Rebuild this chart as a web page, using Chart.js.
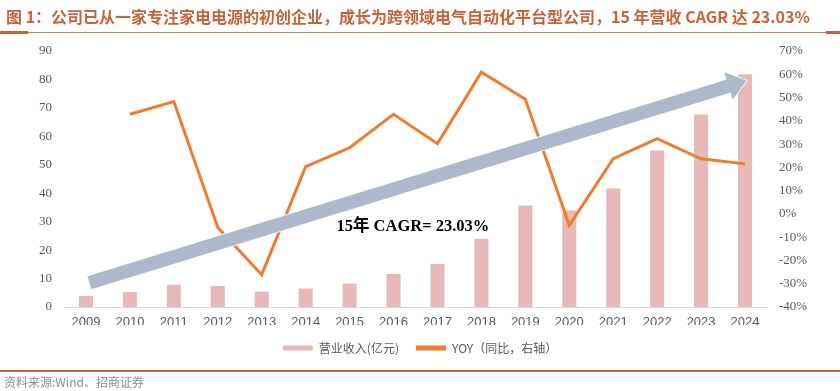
<!DOCTYPE html>
<html>
<head>
<meta charset="utf-8">
<script src="https://cdn.jsdelivr.net/npm/chart.js@4/dist/chart.umd.min.js"></script>
<style>
  html, body { margin: 0; padding: 0; background: #fff; }
  #wrap { position: relative; width: 840px; height: 391px; overflow: hidden; }
  #chart { position: absolute; left: 0; top: 0; }
  .title {
    position: absolute; left: 6px; top: 4px; white-space: nowrap;
    font: bold 16px "Noto Sans CJK SC", "Liberation Sans", sans-serif;
    color: #c4643c;
  }
  .rule-top { position: absolute; left: 0; top: 32px; width: 840px; height: 1px; background: #c8785a; }
  .rule-top-l { position: absolute; left: 0; top: 31px; width: 28px; height: 3px; background: #c4643c; }
  .rule-top-r { position: absolute; left: 826px; top: 31px; width: 14px; height: 3px; background: #c4643c; }
  .rule-bottom { position: absolute; left: 0; top: 370px; width: 840px; height: 2px; background: #c0694a; }
  .source {
    position: absolute; left: 4px; top: 373px; white-space: nowrap;
    font: 12px "Noto Sans CJK SC", sans-serif; color: #8c8c8c;
  }
</style>
</head>
<body>
<div id="wrap">
  <canvas id="chart" width="840" height="391"></canvas>
  <div class="title">图 1：公司已从一家专注家电电源的初创企业，成长为跨领域电气自动化平台型公司，15 年营收 CAGR 达 23.03%</div>
  <div class="rule-top"></div>
  <div class="rule-top-l"></div>
  <div class="rule-top-r"></div>
  <div class="rule-bottom"></div>
  <div class="source">资料来源:Wind、招商证券</div>
</div>
<script>
// --- data ---
const years = ['2009', '2010', '2011', '2012', '2013', '2014', '2015', '2016',
               '2017', '2018', '2019', '2020', '2021', '2022', '2023', '2024'];
// 营业收入 (亿元)
const revenue = [3.9, 5.3, 7.8, 7.4, 5.4, 6.5, 8.2, 11.6, 15.1, 24.0, 35.7, 33.9, 41.7, 55.0, 67.7, 81.8];
// YOY (%), no value for the first year
const yoy = [null, 42.8, 48.3, -5.8, -26.1, 20.3, 28.4, 42.8, 30.2, 60.9, 49.3, -4.9, 23.7, 32.3, 23.7, 21.5];

const leftTicks = { min: 0, max: 90, step: 10 };
const rightTicks = { min: -40, max: 70, step: 10 };

// trend arrow, in (category index, left-axis value) units
const arrowFrom = [0.07, 8.5];
const arrowTo = [15.05, 79.7];
const cagrText = '15年 CAGR= 23.03%';
const cagrAt = [7.44, 28.2];

const BAR = '#e6b9b8';
const LINE = '#ed7d31';
const ARROW = '#adb9ca';
const TICK = '#595959';

// --- arrow + label overlay ---
const trendArrow = {
    id: 'trendArrow',
    afterDatasetsDraw(chart) {
        const { ctx, scales } = chart;
        const x0 = scales.x.getPixelForValue(arrowFrom[0]);
        const y0 = scales.y.getPixelForValue(arrowFrom[1]);
        const x1 = scales.x.getPixelForValue(arrowTo[0]);
        const y1 = scales.y.getPixelForValue(arrowTo[1]);
        const len = Math.hypot(x1 - x0, y1 - y0);
        const ang = Math.atan2(y1 - y0, x1 - x0);
        const half = 7.2, headLen = 20, headHalf = 15;

        ctx.save();
        ctx.translate(x0, y0);
        ctx.rotate(ang);
        ctx.beginPath();
        ctx.moveTo(0, -half);
        ctx.lineTo(len - headLen, -half);
        ctx.lineTo(len - headLen, -headHalf);
        ctx.lineTo(len, 0);
        ctx.lineTo(len - headLen, headHalf);
        ctx.lineTo(len - headLen, half);
        ctx.lineTo(0, half);
        ctx.closePath();
        ctx.fillStyle = ARROW;
        ctx.fill();
        ctx.lineWidth = 1;
        ctx.strokeStyle = 'rgba(255,255,255,0.8)';
        ctx.stroke();
        ctx.restore();

        ctx.save();
        ctx.font = 'bold 16.5px "Liberation Serif", "Noto Sans CJK SC", serif';
        ctx.fillStyle = '#000';
        ctx.textAlign = 'center';
        ctx.textBaseline = 'middle';
        ctx.fillText(cagrText, scales.x.getPixelForValue(cagrAt[0]), scales.y.getPixelForValue(cagrAt[1]));
        ctx.restore();
    }
};

new Chart(document.getElementById('chart'), {
    data: {
        labels: years,
        datasets: [
            {
                type: 'line',
                label: 'YOY（同比，右轴）',
                data: yoy,
                yAxisID: 'y1',
                borderColor: LINE,
                backgroundColor: LINE,
                borderWidth: 3,
                pointRadius: 0,
                tension: 0,
                spanGaps: false,
                order: 1
            },
            {
                type: 'bar',
                label: '营业收入(亿元)',
                data: revenue,
                yAxisID: 'y',
                backgroundColor: BAR,
                barPercentage: 0.32,
                categoryPercentage: 1,
                order: 2
            }
        ]
    },
    options: {
        responsive: false,
        animation: false,
        layout: { padding: { top: 51, left: 0, right: 0, bottom: 27 } },
        scales: {
            x: {
                grid: { display: false, drawTicks: false },
                border: { display: true, color: '#d9d9d9', width: 1 },
                ticks: { color: TICK, font: { family: '"Liberation Sans", sans-serif', size: 13 }, padding: 8, maxRotation: 0, autoSkip: false },
                afterFit: (axis) => { axis.height = 18; }
            },
            y: {
                position: 'left',
                min: leftTicks.min, max: leftTicks.max,
                grid: { display: false, drawTicks: false },
                border: { display: false },
                ticks: { stepSize: leftTicks.step, color: TICK, padding: 12, font: { family: '"Liberation Serif", serif', size: 13 } },
                afterFit: (axis) => { axis.width = 64; }
            },
            y1: {
                position: 'right',
                min: rightTicks.min, max: rightTicks.max,
                grid: { display: false, drawTicks: false },
                border: { display: false },
                ticks: {
                    stepSize: rightTicks.step, color: TICK, padding: 12,
                    font: { family: '"Liberation Serif", serif', size: 13 },
                    callback: (v) => v + '%'
                },
                afterFit: (axis) => { axis.width = 73; }
            }
        },
        plugins: {
            legend: {
                position: 'bottom',
                reverse: true,
                labels: {
                    color: TICK,
                    font: { family: '"Noto Sans CJK SC", sans-serif', size: 12 },
                    boxWidth: 30,
                    boxHeight: 5,
                    padding: 17,
                    generateLabels: (chart) => chart.data.datasets.map((ds, i) => ({
                        text: ds.label,
                        fillStyle: ds.type === 'bar' ? BAR : LINE,
                        strokeStyle: 'rgba(0,0,0,0)',
                        lineWidth: 0,
                        fontColor: TICK,
                        datasetIndex: i
                    }))
                }
            },
            tooltip: { enabled: false }
        }
    },
    plugins: [trendArrow]
});
</script>
</body>
</html>
